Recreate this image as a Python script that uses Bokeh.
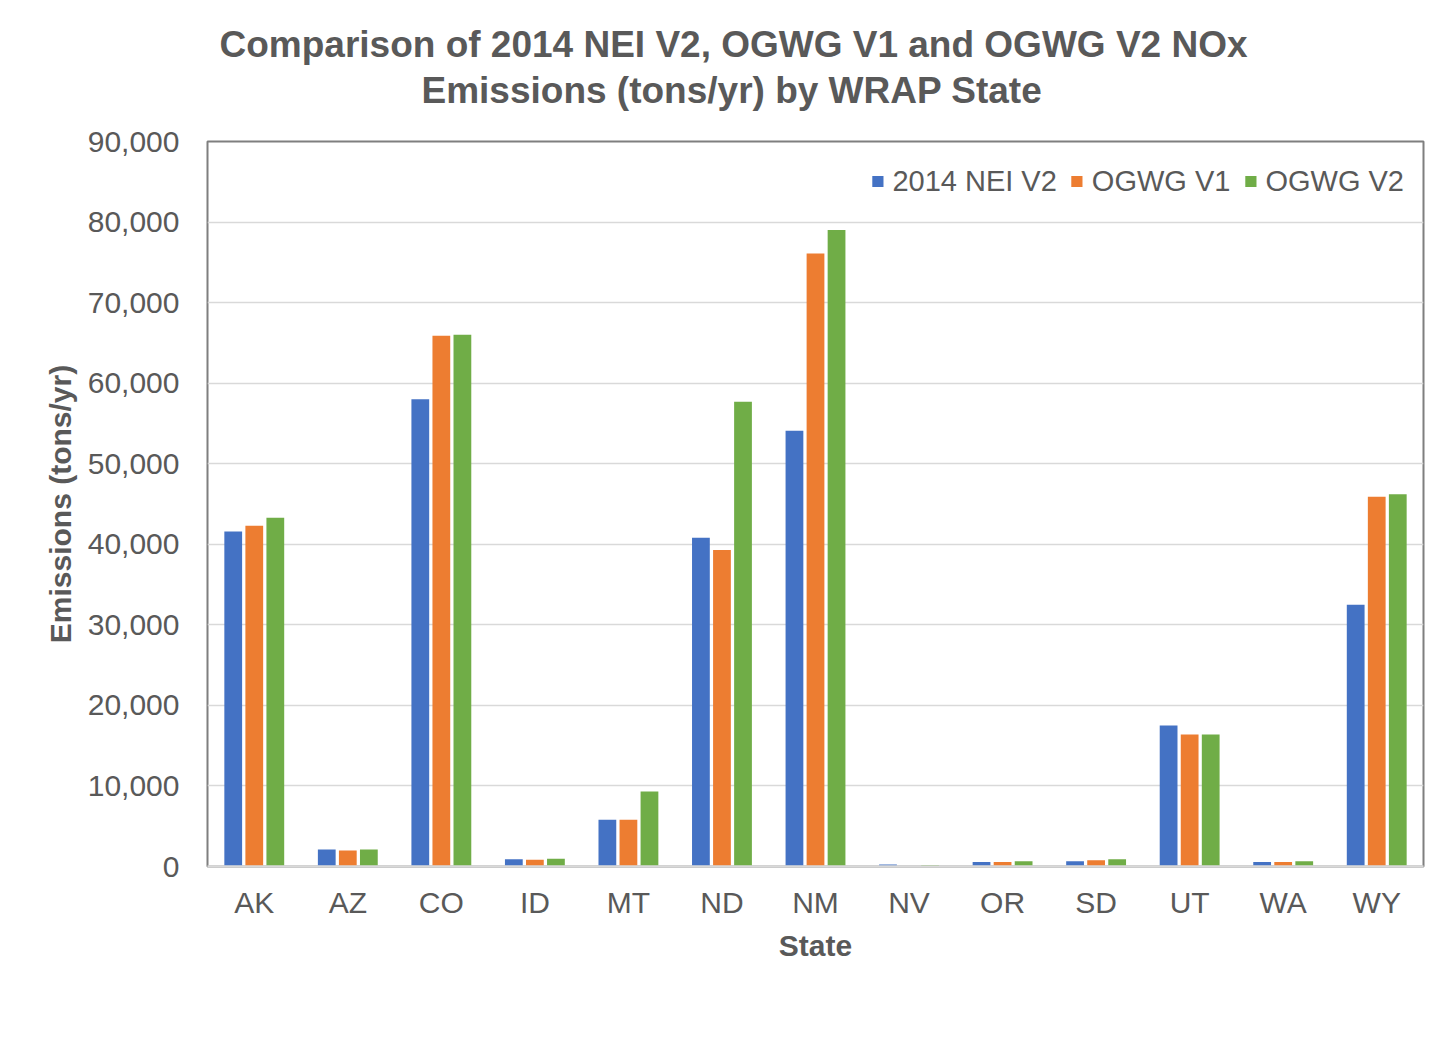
from bokeh.plotting import figure
from bokeh.models import (ColumnDataSource, FixedTicker, NumeralTickFormatter, Legend,
                          LegendItem, Range1d, Span, Title)
from bokeh.transform import dodge
from bokeh.embed import file_html
from bokeh.resources import INLINE

states = ["AK", "AZ", "CO", "ID", "MT", "ND", "NM", "NV", "OR", "SD", "UT", "WA", "WY"]
nei_2014_v2 = [41600, 2100, 58000, 900, 5800, 40800, 54100, 250, 550, 650, 17500, 550, 32500]
ogwg_v1 = [42300, 2000, 65900, 850, 5800, 39300, 76100, 50, 550, 780, 16400, 550, 45900]
ogwg_v2 = [43300, 2100, 66000, 950, 9300, 57700, 79000, 200, 650, 900, 16400, 650, 46200]
series_names = ["2014 NEI V2", "OGWG V1", "OGWG V2"]
y_ticks = [0, 10000, 20000, 30000, 40000, 50000, 60000, 70000, 80000, 90000]
title_lines = ["Comparison of 2014 NEI V2, OGWG V1 and OGWG V2 NOx",
               "Emissions (tons/yr) by WRAP State"]

colors = ["#4472C4", "#ED7D31", "#70AD47"]
FONT = "Liberation Sans"
TXT = "#595959"

xs = list(range(len(states)))
src = ColumnDataSource(dict(x=xs, nei=nei_2014_v2, v1=ogwg_v1, v2=ogwg_v2))

p = figure(width=1425, height=1039, output_backend="svg", toolbar_location=None,
           x_range=Range1d(-0.5, len(states) - 0.5), y_range=Range1d(0, 90000),
           min_border_left=207, min_border_top=141, min_border_bottom=173,
           min_border_right=2)

fields = ["nei", "v1", "v2"]
offsets = [-0.225, 0.0, 0.225]
renderers = []
for f, off, c in zip(fields, offsets, colors):
    r = p.vbar(x=dodge("x", off), top=f, width=0.19, bottom=0, source=src,
               fill_color=c, line_color=None)
    renderers.append(r)

# axes
p.xaxis.ticker = FixedTicker(ticks=xs)
p.xaxis.major_label_overrides = {i: s for i, s in enumerate(states)}
p.yaxis.ticker = FixedTicker(ticks=y_ticks)
p.yaxis.formatter = NumeralTickFormatter(format="0,0")

for ax in (p.xaxis[0], p.yaxis[0]):
    ax.major_tick_line_color = None
    ax.minor_tick_line_color = None
    ax.major_tick_out = 0
    ax.major_tick_in = 0
    ax.major_label_text_font = FONT
    ax.major_label_text_font_size = "30px"
    ax.major_label_text_color = TXT
    ax.axis_label_text_font = FONT
    ax.axis_label_text_font_size = "30px"
    ax.axis_label_text_font_style = "bold"
    ax.axis_label_text_color = TXT

p.xaxis.axis_line_color = "#d9d9d9"
p.xaxis.axis_line_width = 2
p.yaxis.axis_line_color = None
p.xaxis.axis_label = "State"
p.yaxis.axis_label = "Emissions (tons/yr)"
p.xaxis.major_label_standoff = 19
p.xaxis.axis_label_standoff = 7
p.yaxis.major_label_standoff = 28
p.yaxis.axis_label_standoff = 8

p.xgrid.grid_line_color = None
p.ygrid.grid_line_color = "#d9d9d9"
p.ygrid.grid_line_width = 1.5

p.outline_line_color = "#7f7f7f"
p.outline_line_width = 2
p.add_layout(Span(location=0, dimension="width", line_color="#d9d9d9", line_width=2))

# legend
items = [LegendItem(label=n, renderers=[r]) for n, r in zip(series_names, renderers)]
leg = Legend(items=items, orientation="horizontal", location="top_right",
             label_text_font=FONT, label_text_font_size="29px", label_text_color=TXT,
             glyph_width=14, glyph_height=14, label_standoff=8, spacing=13,
             padding=5, margin=19, border_line_color=None, background_fill_alpha=0,
             label_height=42)
p.add_layout(leg)

# two-line title (second line added first: nearest to the frame)
t2 = Title(text=title_lines[1], align="left", offset=214, standoff=62,
           text_font=FONT, text_font_size="37px", text_font_style="bold", text_color=TXT)
t1 = Title(text=title_lines[0], align="left", offset=12, standoff=-56,
           text_font=FONT, text_font_size="37px", text_font_style="bold", text_color=TXT)
p.add_layout(t2, "above")
p.add_layout(t1, "above")

open("out.html", "w").write(file_html(p, INLINE))
